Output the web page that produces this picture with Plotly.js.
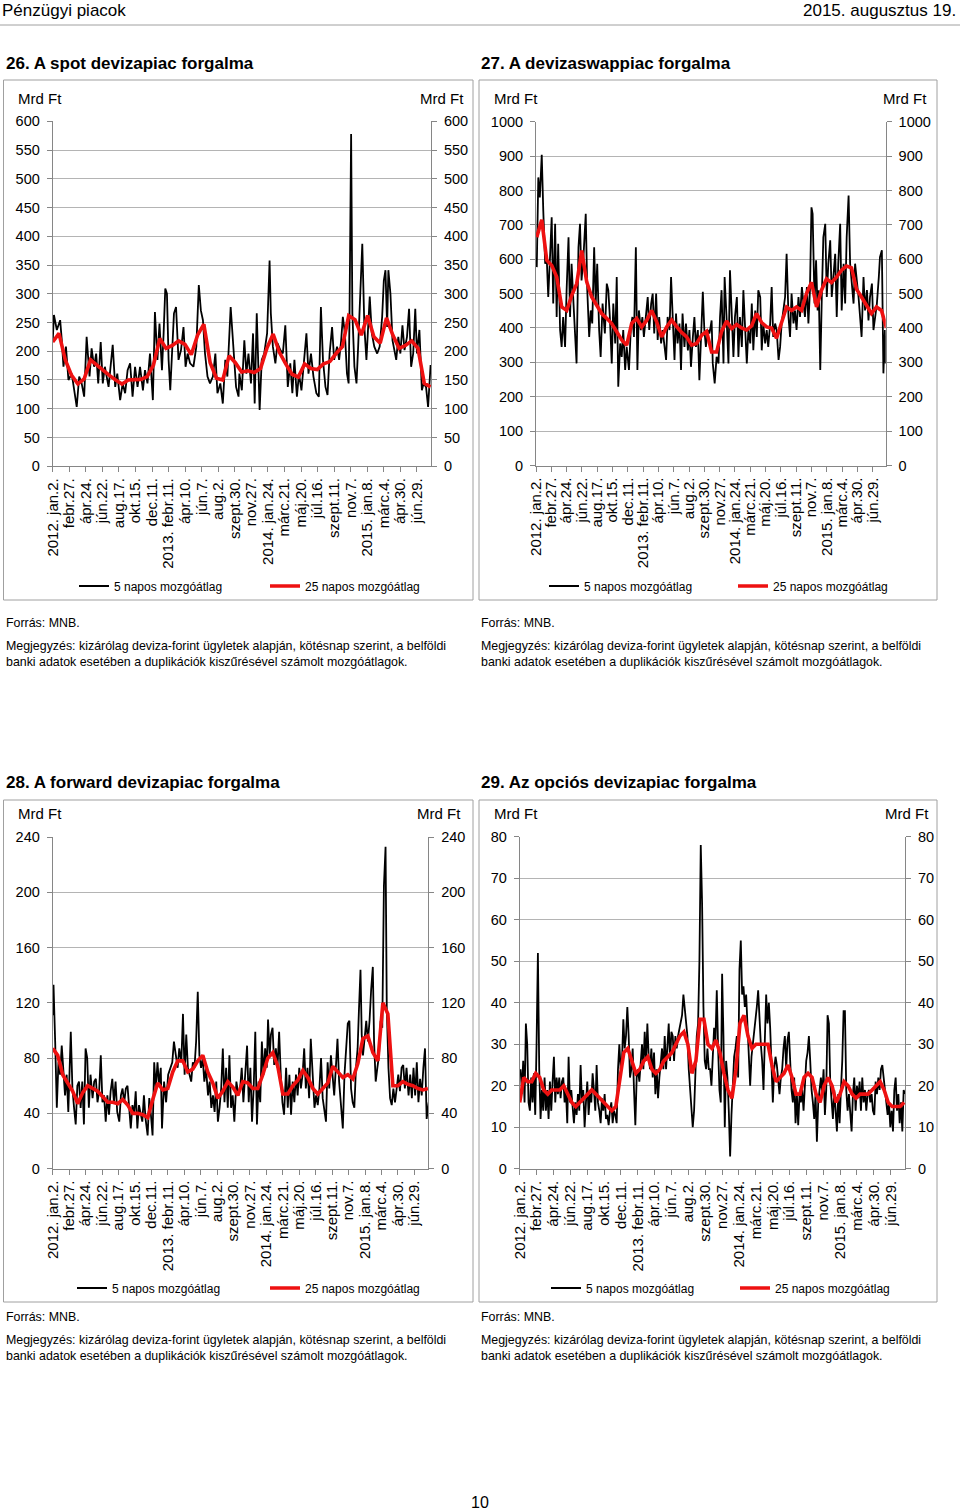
<!DOCTYPE html>
<html><head><meta charset="utf-8">
<script src="https://cdn.plot.ly/plotly-3.0.1.min.js"></script>
<style>html,body{margin:0;padding:0;background:#fff}#chart{width:960px;height:1510px}</style>
</head><body><div id="chart"></div>
<script>
// ---------- tick labels (one every 40 business days) ----------
const tickLabels = ["2012. jan.2.","febr.27.","ápr.24.","jún.22.","aug.17.","okt.15.","dec.11.",
  "2013. febr.11.","ápr.10.","jún.7.","aug.2.","szept.30.","nov.27.","2014. jan.24.","márc.21.",
  "máj.20.","júl.16.","szept.11.","nov.7.","2015. jan.8.","márc.4.","ápr.30.","jún.29."];
const TICK_STEP_DAYS = 40;
const seriesNames = ["5 napos mozgóátlag","25 napos mozgóátlag"];

// ---------- 26. spot (business-day index, Mrd Ft) ----------
const spotDays = [0,3,10,18,22,26,32,38,46,50,58,64,70,76,82,89,94,100,105,110,116,121,126,135,140,145,151,156,163,169,175,181,187,193,199,205,211,218,223,229,235,242,247,253,258,264,268,272,276,280,284,288,293,298,304,310,316,321,326,332,340,347,353,358,363,368,374,380,387,393,398,405,411,417,422,430,437,443,449,
 451,457,463,468,473,479,484,488,493,500,505,511,518,524,527,532,538,543,550,556,562,568,574,579,584,590,595,601,608,613,618,624,630,637,643,648,653,659,664,669,675,680,687,692,697,701,706,711,715,717,721,724,729,734,738,743,748,753,758,763,766,771,777,784,790,796,800,804,808,811,816,821,826,830,835,840,845,850,856,861,866,871,876,880,886,892,896,902,907,913];
const spotMA5 = [216,263,237,254,219,173,208,150,161,144,103,156,144,121,225,156,205,173,196,144,216,144,173,138,173,211,138,161,115,144,127,167,179,121,173,138,173,132,167,144,196,115,268,185,248,167,231,309,300,185,132,196,266,277,185,202,242,173,196,179,173,208,315,271,254,196,156,144,156,196,127,144,109,185,156,277,196,138,121,
 161,132,219,161,196,144,231,109,266,98,185,196,231,358,266,208,179,214,202,196,245,138,179,127,185,121,161,132,196,231,161,196,156,127,121,277,185,138,124,196,242,185,208,185,219,260,231,161,144,254,578,266,173,144,208,289,387,242,185,254,295,231,208,196,208,260,323,341,242,341,300,219,196,185,225,196,245,202,225,274,173,196,274,196,237,132,144,138,103,176];
const spotMA25 = [216,231,185,158,143,152,185,176,165,158,150,143,150,150,151,156,176,222,205,210,218,212,194,228,247,180,153,150,192,180,
 164,166,163,170,205,230,198,178,160,155,178,170,168,178,182,196,208,262,255,228,262,225,214,258,228,205,210,218,205,144,138];
const spotMA25Span = [0, 913];

// ---------- 27. FX swap ----------
const swapDays = [2,6,10,15,19,24,28,32,37,41,45,50,54,58,63,67,71,76,80,85,89,93,98,102,106,111,115,119,124,130,134,139,143,147,152,156,160,165,169,174,180,185,189,193,198,202,207,211,215,220,224,228,233,237,243,248,252,256,261,265,269,274,278,282,287,292,296,301,305,309,314,318,322,327,331,336,340,344,349,353,357,362,366,370,375,379,383,388,392,397,401,405,410,414,418,423,427,431,436,440,444,449,453,
 455,459,462,467,472,477,481,485,490,493,498,503,507,512,516,520,525,529,533,538,542,546,551,555,560,564,568,573,577,581,586,590,594,599,603,607,612,616,620,625,629,634,638,642,647,651,655,660,664,668,673,677,681,686,690,695,699,703,708,712,716,720,723,728,732,736,739,743,747,751,756,760,764,769,773,777,782,786,790,795,799,804,808,812,817,821,825,830,834,838,843,847,851,856,860,865,869,873,878,882,886,891,896,899,904,908,912,914];
const swapMA5 = [577,838,780,904,742,587,606,490,616,722,471,703,432,645,394,345,432,345,510,664,432,587,471,394,297,635,703,538,606,732,510,374,451,413,635,471,587,394,316,471,384,529,510,432,297,471,355,548,229,355,316,394,278,345,278,403,432,374,635,278,451,394,432,374,432,490,394,471,500,384,500,365,432,355,394,335,307,432,394,548,432,307,442,355,413,278,442,345,413,335,394,287,374,432,345,394,248,355,505,394,345,394,384,
 394,422,297,239,316,297,432,510,297,548,432,297,568,432,316,432,490,316,432,345,510,413,297,394,355,471,335,451,374,510,490,335,413,355,394,345,413,519,374,413,394,307,345,413,451,490,616,432,374,500,413,451,394,490,432,519,471,432,519,413,510,751,732,471,597,451,510,278,490,664,703,490,587,655,490,548,616,432,587,703,451,587,471,664,785,587,529,471,587,548,490,432,374,548,451,510,422,490,529,394,432,471,548,606,626,268,394,297];
const swapMA25 = [664,715,597,582,548,461,451,495,529,625,534,490,466,442,428,413,389,365,350,413,428,403,422,451,418,374,403,423,404,387,374,350,355,379,390,
 330,330,390,420,398,410,400,394,406,442,416,403,400,370,413,461,451,461,451,500,533,461,510,543,532,548,568,580,575,513,490,466,442,461,451,400];
const swapMA25Span = [2, 916];

// ---------- 28. forward ----------
const fwdDays = [0,2,6,10,14,18,22,26,30,34,38,44,48,52,56,60,64,68,72,76,80,84,88,92,97,101,105,109,113,117,121,125,129,133,137,141,145,149,153,157,162,166,170,174,178,182,186,190,194,198,202,206,210,214,218,222,226,231,235,239,243,247,251,255,259,263,266,271,276,281,286,291,295,300,304,308,313,317,321,325,329,333,337,341,345,349,353,357,361,365,369,373,378,382,386,390,394,398,402,406,410,414,418,422,426,430,434,438,442,447,452,
 456,460,464,468,473,477,481,485,489,493,497,501,505,509,513,517,521,524,528,531,535,539,543,547,551,555,559,563,568,572,576,580,584,588,592,596,600,604,608,612,616,620,624,628,632,637,641,645,649,653,657,661,665,669,673,677,681,685,689,693,697,701,706,710,714,718,722,726,730,734,738,742,745,749,752,755,759,763,767,771,775,779,782,786,790,794,798,802,806,810,813,817,821,825,829,833,837,841,845,849,853,857,861,866,870,874,878,882,886,890,894,898,902,906,910,915];
const fwdMA5 = [111,133,92,44,77,68,89,73,53,68,41,99,58,44,32,60,63,44,63,32,87,80,44,68,51,63,65,48,56,82,48,53,34,53,39,56,65,48,63,41,34,53,58,48,58,60,44,29,46,39,56,29,46,41,34,53,36,24,51,39,24,77,58,77,60,73,29,63,48,68,73,77,92,82,73,87,77,112,68,97,73,68,63,77,73,92,128,82,73,80,63,73,53,63,44,53,41,63,34,44,58,87,48,73,44,82,44,53,34,63,53,
 58,73,48,68,89,48,73,34,58,99,32,63,48,92,68,87,73,108,82,97,102,75,87,73,99,68,48,39,73,44,68,39,63,48,68,53,73,58,68,87,58,73,51,94,73,44,53,46,58,80,51,44,34,77,58,82,68,53,73,94,63,48,29,68,87,105,107,58,48,44,73,87,113,144,97,82,94,107,92,107,130,146,92,63,73,82,107,102,205,233,116,73,51,46,58,48,58,68,56,73,75,58,73,53,68,51,73,53,77,48,65,53,73,87,36,48];
const fwdMA25 = [87,82,68,62,56,47,55,60,58,56,52,48,48,47,50,46,40,40,39,37,50,62,57,58,70,78,78,70,72,78,82,70,62,51,56,63,59,53,
 63,62,58,58,68,80,84,74,54,54,60,64,71,66,58,54,58,62,74,70,66,68,65,76,94,96,84,78,120,112,60,60,63,61,60,58,57,58];
const fwdMA25Span = [0, 913];

// ---------- 29. options (evenly sampled) ----------
const optMA5 = [24,19,26,16,35,30,16,14,22,16,23,13,30,52,24,12,19,14,22,14,19,12,21,14,21,27,16,22,18,22,17,21,22,16,19,11,27,16,19,14,11,16,13,18,14,25,16,19,10,16,21,13,18,16,23,19,14,25,16,14,11,17,14,18,12,13,10.5,14,16,11,14,13,11,24,30,24,26,36,29,32,39,32,22,24,29,19,10.5,22,24,21,26,30,24,33,26,35,27,24,29,22,28,18,24,17,22,26,29,24,32,24,29,35,26,33,32,26,32,29,32,34,35,37,42,39,35,32,24,19,16,10,14,24,32,35,50,78,64,39,26,24,29,24,
 24,20,28,34,31,43,29,19,16,47,32,10,26,22,14,3,13,22,27,29,32,22,48,55,42,44,39,42,34,24,20,27,30,32,35,39,43,35,30,26,19,31,42,35,40,34,26,16,24,27,25,21,18,22,24,29,32,24,31,33,24,19,16,22,11,18,10.5,18,16,19,14,22,26,28,32,26,19,16,12,18,6.5,16,19,22,18,24,13,19,37,35,21,16,12,19,14,9,18,11,19,26,38,38,19,14,18,13,9,18,22,14,20,17,21,14,22,16,19,14,18,19,16,18,14,13,21,18,22,19,24,25,21,19,16,13,16,10,14,9,19,22,14,18,11,16,9,19,18];
const optMA5Span = [2, 914];
const optMA25 = [16,22,21,21,23,22,19,18,19,19,19,20,18,16,15,16,17,18,19,18,17,16,15,14,15,22,28,29,26,23,24,26,27,24,23,24,26,27,28,30,32,33,30,23,26,36,36,30,
 29,31,28,23,19,17,24,35,37,32,29,30,30,30,30,25,21,22,23,25,22,18,18,22,23,22,18,16,20,22,20,16,18,21,20,18,17,18,18,18,19,20,21,19,16,15,15,15,16];
const optMA25Span = [0, 912];

// ---------- helpers ----------
function spread(span, n){ const out=[]; for(let i=0;i<n;i++) out.push(span[0]+(span[1]-span[0])*i/(n-1)); return out; }

const W=960, H=1510;
const PX = v => v/W, PY = v => 1 - v/H;
const FONT = "Liberation Sans, Arial, sans-serif";
const AXIS_GRAY = '#868686', GRID = '#b4b4b4', BOX = '#a0a0a0', RED = '#ee1111';

const charts = [
  {title:'26. A spot devizapiac forgalma', bx:[3.5,473], by:[80,600], plot:[52.7,431,121.3,466.2], ymax:600, dtick:50,
   titleY:63, mrdY:99, mrdL:16, mrdR:466, legY:586, legL:74, legW:146, noteY:614,
   bDays:spotDays, bVals:spotMA5, rVals:spotMA25, rSpan:spotMA25Span},
  {title:'27. A devizaswappiac forgalma', bx:[479,937], by:[80,600], plot:[536,885.7,121.7,465.5], ymax:1000, dtick:100,
   titleY:63, mrdY:99, mrdL:492, mrdR:929, legY:586, legL:544, legW:144, noteY:614,
   bDays:swapDays, bVals:swapMA5, rVals:swapMA25, rSpan:swapMA25Span},
  {title:'28. A forward devizapiac forgalma', bx:[3.5,473], by:[800,1302], plot:[52.7,428.3,837.1,1168.6], ymax:240, dtick:40,
   titleY:782, mrdY:814, mrdL:16, mrdR:463, legY:1288, legL:72, legW:148, noteY:1308,
   bDays:fwdDays, bVals:fwdMA5, rVals:fwdMA25, rSpan:fwdMA25Span},
  {title:'29. Az opciós devizapiac forgalma', bx:[479,937], by:[800,1302], plot:[519.7,905,836.8,1168.8], ymax:80, dtick:10,
   titleY:782, mrdY:814, mrdL:492, mrdR:931, legY:1288, legL:546, legW:144, noteY:1308,
   bDays:spread(optMA5Span, optMA5.length), bVals:optMA5, rVals:optMA25, rSpan:optMA25Span},
];

const tickVals = tickLabels.map((_,i)=>i*TICK_STEP_DAYS);
const traces = [];
const layout = {
  width:W, height:H, margin:{l:0,r:0,t:0,b:0}, paper_bgcolor:'#fff', plot_bgcolor:'rgba(0,0,0,0)',
  font:{family:FONT, color:'#000', size:14}, showlegend:true, shapes:[], annotations:[],
};

charts.forEach((c,k)=>{
  const n=k+1, xa = n===1?'x':'x'+n, yl='y'+(2*n-1===1?'':(2*n-1)), yr='y'+(2*n);
  const legId = n===1?'legend':'legend'+n;
  traces.push({x:c.bDays, y:c.bVals, type:'scatter', mode:'lines', name:seriesNames[0],
    line:{color:'#000', width:1.8}, xaxis:xa, yaxis:yl, legend:legId, hoverinfo:'skip'});
  traces.push({x:spread(c.rSpan, c.rVals.length), y:c.rVals, type:'scatter', mode:'lines', name:seriesNames[1],
    line:{color:RED, width:3.6}, xaxis:xa, yaxis:yr, legend:legId, hoverinfo:'skip'});

  const xKey = n===1?'xaxis':'xaxis'+n;
  const ylKey = (2*n-1)===1?'yaxis':'yaxis'+(2*n-1);
  const yrKey = 'yaxis'+(2*n);
  const [pl,pr,pt,pb] = c.plot;
  layout[xKey] = {domain:[PX(pl),PX(pr)], anchor:yl, range:[0,914], tickmode:'array', tickvals:tickVals, ticktext:tickLabels,
    tickangle:-90, ticks:'outside', ticklen:5, tickcolor:AXIS_GRAY, showline:true, linecolor:AXIS_GRAY, linewidth:1,
    showgrid:false, zeroline:false, tickfont:{size:15, family:FONT}, ticklabelstandoff:0, fixedrange:true};
  const yCommon = {range:[0,c.ymax], dtick:c.dtick, tick0:0, ticks:'outside', ticklen:5, tickcolor:AXIS_GRAY,
    showline:true, linecolor:AXIS_GRAY, linewidth:1, zeroline:false, tickfont:{size:14.5, family:FONT}, ticklabelstandoff:4, fixedrange:true};
  layout[ylKey] = Object.assign({}, yCommon, {domain:[PY(pb),PY(pt)], anchor:xa, side:'left', showgrid:true, gridcolor:GRID, gridwidth:1});
  layout[yrKey] = Object.assign({}, yCommon, {overlaying:yl, anchor:xa, side:'right', showgrid:false});

  layout[legId] = {orientation:'h', x:PX(c.legL), xanchor:'left', y:PY(c.legY), yanchor:'middle', bgcolor:'rgba(0,0,0,0)',
    font:{size:12, family:FONT}, entrywidth:c.legW, entrywidthmode:'pixels', tracegroupgap:0, itemclick:false, itemdoubleclick:false};

  layout.shapes.push({type:'rect', xref:'paper', yref:'paper', x0:PX(c.bx[0]), x1:PX(c.bx[1]), y0:PY(c.by[1]), y1:PY(c.by[0]),
    line:{color:BOX, width:1}, fillcolor:'rgba(0,0,0,0)'});
  layout.annotations.push({text:'<b>'+c.title+'</b>', xref:'paper', yref:'paper', x:PX(c.bx[0]), y:PY(c.titleY),
    xanchor:'left', yanchor:'middle', showarrow:false, font:{size:17, family:FONT}});
  layout.annotations.push({text:'Mrd Ft', xref:'paper', yref:'paper', x:PX(c.mrdL), y:PY(c.mrdY), xanchor:'left', yanchor:'middle', showarrow:false, font:{size:15}});
  layout.annotations.push({text:'Mrd Ft', xref:'paper', yref:'paper', x:PX(c.mrdR), y:PY(c.mrdY), xanchor:'right', yanchor:'middle', showarrow:false, font:{size:15}});
  layout.annotations.push({text:'Forrás: MNB.', xref:'paper', yref:'paper', x:PX(c.bx[0]), y:PY(c.noteY), xanchor:'left', yanchor:'top', showarrow:false, font:{size:12.4}});
  layout.annotations.push({text:'Megjegyzés: kizárólag deviza-forint ügyletek alapján, kötésnap szerint, a belföldi<br>banki adatok esetében a duplikációk kiszűrésével számolt mozgóátlagok.',
    xref:'paper', yref:'paper', x:PX(c.bx[0]), y:PY(c.noteY+23), xanchor:'left', yanchor:'top', align:'left', showarrow:false, font:{size:12.4}});
});

// page header / footer
layout.annotations.push({text:'Pénzügyi piacok', xref:'paper', yref:'paper', x:0, y:PY(11), xanchor:'left', yanchor:'middle', showarrow:false, font:{size:17}});
layout.annotations.push({text:'2015. augusztus 19.', xref:'paper', yref:'paper', x:PX(958), y:PY(11), xanchor:'right', yanchor:'middle', showarrow:false, font:{size:17}});
layout.annotations.push({text:'10', xref:'paper', yref:'paper', x:0.5, y:PY(1502), xanchor:'center', yanchor:'middle', showarrow:false, font:{size:16}});
layout.shapes.push({type:'line', xref:'paper', yref:'paper', x0:0, x1:1, y0:PY(25), y1:PY(25), line:{color:'#a0a0a0', width:1}});

Plotly.newPlot('chart', traces, layout, {staticPlot:true, displayModeBar:false});
</script></body></html>
